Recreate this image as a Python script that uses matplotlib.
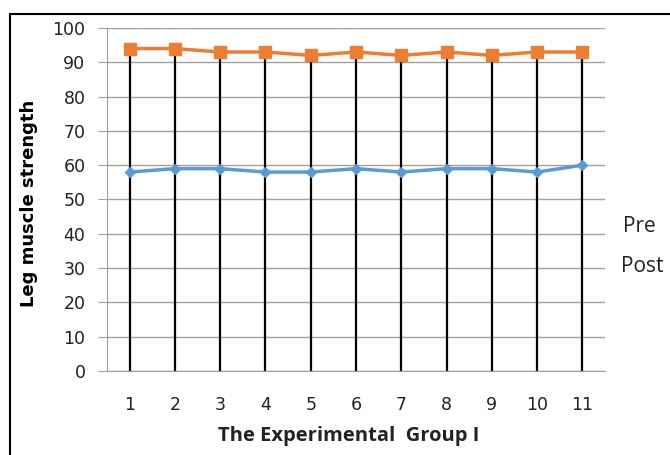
import matplotlib.pyplot as plt
from matplotlib.patches import Rectangle

plt.rcParams['font.family'] = ['DejaVu Sans']

# data
groups = ['1', '2', '3', '4', '5', '6', '7', '8', '9', '10', '11']
pre = [58, 59, 59, 58, 58, 59, 58, 59, 59, 58, 60]
post = [94, 94, 93, 93, 92, 93, 92, 93, 92, 93, 93]
yticks = [0, 10, 20, 30, 40, 50, 60, 70, 80, 90, 100]

fig = plt.figure(figsize=(6.7, 4.55), dpi=100)
ax = fig.add_axes([0.1597, 0.1846, 0.7433, 0.7539])

x = list(range(1, len(groups) + 1))

# drop lines from post down to axis
ax.vlines(x, 0, post, color='black', linewidth=1.6, zorder=2)

ax.plot(x, pre, color='#5B9BD5', linewidth=2.5, marker='D', markersize=5,
        label='Pre', zorder=3)
ax.plot(x, post, color='#ED7D31', linewidth=2.5, marker='s', markersize=8,
        label='Post', zorder=3)

ax.set_xlim(0.5, len(groups) + 0.5)
ax.set_ylim(0, 100)
ax.set_yticks(yticks)
ax.set_xticks(x)
ax.set_xticklabels(groups)
ax.grid(axis='y', color='#A0A0A0', linewidth=1)
ax.set_axisbelow(True)

for s in ['top', 'right']:
    ax.spines[s].set_visible(False)
ax.spines['left'].set_color('#A0A0A0')
ax.spines['bottom'].set_color('#A0A0A0')
ax.tick_params(axis='y', length=6.5, color='#A0A0A0', labelsize=12.5, pad=9,
               labelcolor='#222222')
ax.tick_params(axis='x', length=0, labelsize=12.5, pad=18, labelcolor='#222222')

ax.set_ylabel('Leg muscle strength', fontsize=13, fontweight='bold')
ax.yaxis.set_label_coords(-0.1386, 0.49)
ax.set_xlabel('The Experimental  Group I', fontsize=14.5, fontweight='bold',
              family='Open Sans', color='#222222')
ax.xaxis.set_label_coords(0.486, -0.160)
ax.xaxis.label.set_va('top')

# legend as plain text on the right
fig.text(0.930, 0.4901, 'Pre', fontsize=15, family='Open Sans', va='baseline',
         color='#222222')
fig.text(0.927, 0.4022, 'Post', fontsize=15, family='Open Sans', va='baseline',
         color='#222222')

# outer border
fig.patches.append(Rectangle((10 / 670, -0.1), 1.2, (455 - 14) / 455 + 0.1,
                             transform=fig.transFigure, fill=False,
                             edgecolor='black', linewidth=1.5))

fig.savefig('out.png', dpi=100)
